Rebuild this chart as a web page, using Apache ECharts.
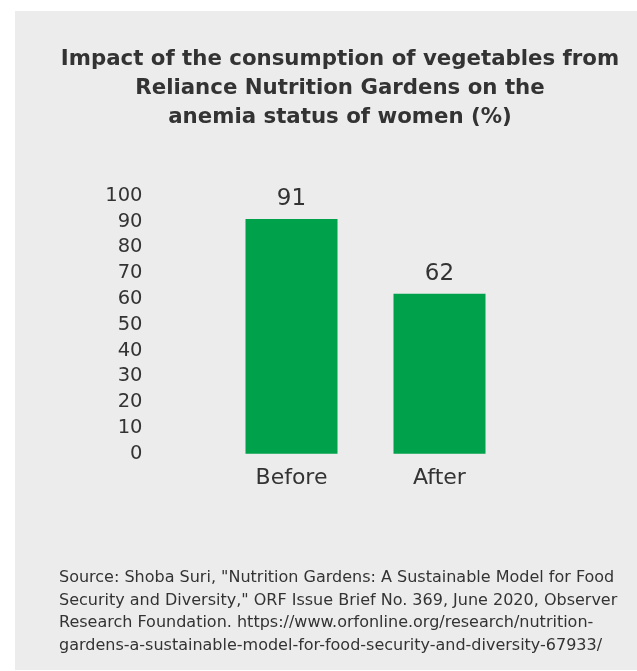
<!DOCTYPE html>
<html>
<head>
<meta charset="utf-8">
<script src="https://cdn.jsdelivr.net/npm/echarts@6/dist/echarts.min.js"></script>
<style>
html,body{margin:0;padding:0;background:#fff;}
#chart{width:637px;height:671px;}
</style>
</head>
<body>
<div id="chart"></div>
<script>
const categories = ['Before', 'After'];
const values = [91, 62];
const yMin = 0, yMax = 100, yInterval = 10;
const titleText = 'Impact of the consumption of vegetables from\nReliance Nutrition Gardens on the\nanemia status of women (%)';
const sourceText = 'Source: Shoba Suri, "Nutrition Gardens: A Sustainable Model for Food\nSecurity and Diversity," ORF Issue Brief No. 369, June 2020, Observer\nResearch Foundation. https://www.orfonline.org/research/nutrition-\ngardens-a-sustainable-model-for-food-security-and-diversity-67933/';

const chart = echarts.init(document.getElementById('chart'), null, {renderer: 'canvas'});
const txt = '#333333';
const font = 'DejaVu Sans';
chart.setOption({
  backgroundColor: '#ffffff',
  animation: false,
  graphic: [
    {type: 'rect', z: -10, shape: {x: 15, y: 11, width: 622, height: 659}, style: {fill: '#ebeceb'}}
  ],
  title: [
    {
      text: titleText, padding: 0,
      left: 340, top: 44.5, textAlign: 'center',
      textStyle: {fontFamily: font, fontWeight: 'bold', fontSize: 21.3, lineHeight: 29, color: txt}
    },
    {
      text: sourceText, padding: 0,
      left: 59, top: 566.5,
      textStyle: {fontFamily: font, fontWeight: 'normal', fontSize: 16, lineHeight: 22.6, color: txt}
    }
  ],
  grid: {left: 217.5, right: 123.5, top: 195.7, bottom: 217.3, containLabel: false},
  xAxis: {
    type: 'category', data: categories,
    axisLine: {show: false}, axisTick: {show: false},
    axisLabel: {fontFamily: font, fontSize: 22, color: txt, margin: 14}
  },
  yAxis: {
    type: 'value', min: yMin, max: yMax, interval: yInterval,
    splitLine: {show: false}, axisLine: {show: false}, axisTick: {show: false},
    axisLabel: {fontFamily: font, fontSize: 19.5, color: txt, margin: 75}
  },
  series: [{
    type: 'bar', data: values, barWidth: 92,
    itemStyle: {color: '#00a14b'},
    label: {show: true, position: 'top', distance: 8, fontFamily: font, fontSize: 23, color: txt}
  }]
});
</script>
</body>
</html>
